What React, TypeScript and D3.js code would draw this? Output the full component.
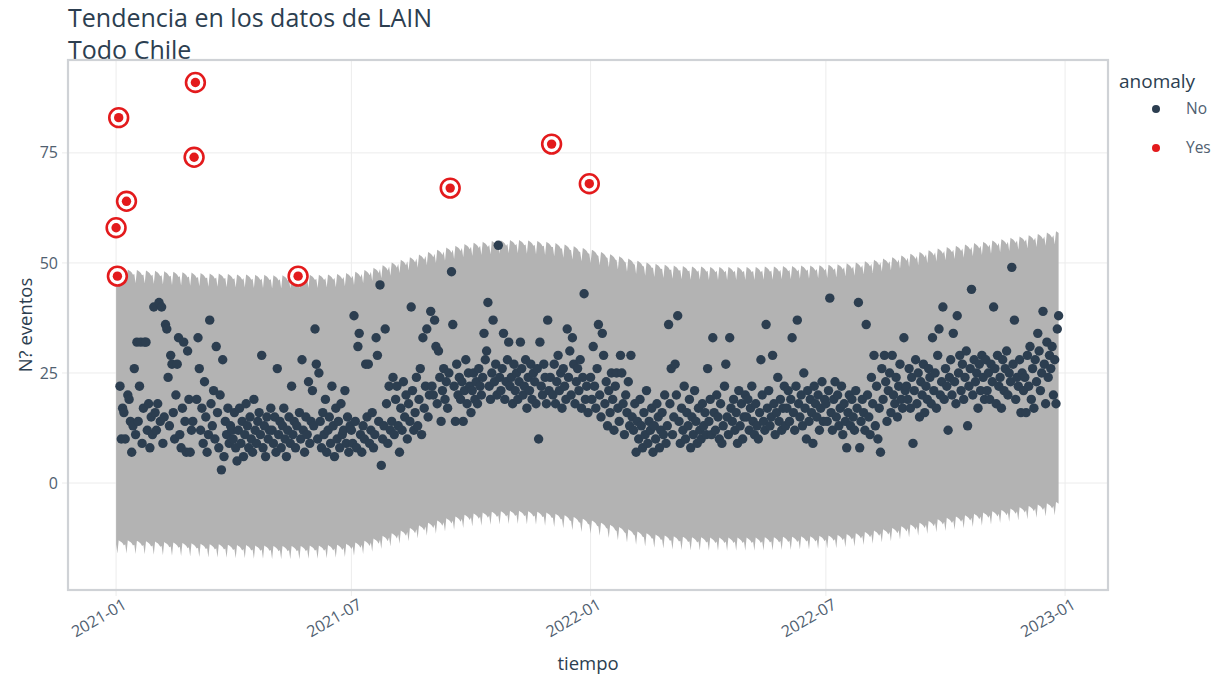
import React from 'react';
import * as d3 from 'd3';

const startDate = '2021-01-01';

// daily counts, one row per month
const counts2021 = [
  58, 47, 83, 22, 10, 17, 16, 10, 64, 20, 19, 14, 7, 13, 26, 11, 32, 14, 22, 32, 9, 17, 32, 32, 12, 18, 8, 15, 11, 40, 16,
  12, 18, 41, 14, 40, 9, 15, 36, 35, 24, 13, 29, 27, 16, 10, 20, 27, 33, 11, 8, 17, 32, 14, 7, 30, 19, 7, 12,
  14, 74, 91, 19, 33, 26, 12, 17, 9, 23, 15, 7, 11, 37, 18, 13, 21, 10, 31, 16, 8, 20, 3, 28, 6, 14, 11, 17, 9, 13, 12,
  10, 16, 8, 5, 12, 17, 9, 14, 6, 11, 18, 13, 8, 15, 10, 7, 19, 12, 9, 14, 16, 11, 29, 8, 13, 6, 15, 10, 12, 17,
  12, 9, 15, 7, 26, 11, 14, 8, 13, 17, 10, 6, 12, 15, 9, 22, 11, 14, 8, 13, 47, 16, 10, 28, 12, 7, 15, 11, 23, 9, 14,
  21, 13, 35, 27, 10, 25, 14, 8, 16, 11, 19, 7, 12, 15, 9, 22, 13, 6, 17, 10, 14, 8, 18, 11, 12, 21, 9, 15, 7, 13,
  12, 9, 38, 14, 8, 31, 34, 11, 7, 13, 10, 27, 15, 27, 9, 12, 16, 8, 11, 33, 29, 14, 45, 4, 10, 13, 35, 18, 9, 22, 12,
  14, 24, 11, 19, 22, 13, 7, 17, 12, 23, 15, 20, 10, 18, 14, 40, 21, 12, 16, 24, 13, 19, 26, 11, 33, 17, 22, 35, 15, 20, 39,
  22, 20, 37, 31, 18, 30, 24, 14, 21, 26, 19, 23, 17, 25, 67, 48, 36, 22, 14, 27, 20, 24, 19, 23, 14, 21, 28, 18, 25, 22,
  16, 21, 25, 19, 23, 18, 26, 22, 20, 24, 34, 28, 30, 41, 22, 19, 25, 37, 23, 27, 20, 54, 24, 21, 26, 34, 19, 23, 28, 32, 22,
  24, 18, 27, 21, 25, 19, 23, 32, 26, 20, 22, 28, 17, 24, 21, 27, 19, 25, 23, 18, 26, 10, 32, 22, 20, 27, 24, 18, 37, 21,
  24, 77, 20, 27, 18, 23, 29, 21, 25, 17, 26, 22, 19, 35, 24, 30, 20, 33, 27, 18, 23, 26, 21, 28, 17, 24, 43, 19, 22, 16, 68,
];
const counts2022 = [
  24, 19, 31, 22, 17, 26, 36, 20, 15, 34, 29, 18, 23, 13, 21, 16, 25, 19, 12, 22, 25, 17, 14, 29, 25, 18, 11, 20, 16, 23, 13,
  29, 15, 12, 18, 7, 14, 10, 19, 13, 8, 16, 11, 21, 9, 14, 12, 17, 7, 13, 10, 18, 15, 8, 12, 16, 11, 20, 9,
  13, 36, 18, 26, 11, 15, 27, 20, 38, 14, 9, 17, 12, 22, 10, 16, 13, 19, 8, 15, 11, 21, 14, 9, 17, 12, 10, 18, 13, 16, 11,
  26, 14, 19, 11, 33, 16, 12, 20, 15, 10, 18, 9, 13, 22, 27, 15, 11, 33, 17, 14, 19, 12, 16, 9, 21, 13, 18, 10, 15, 20,
  15, 19, 12, 17, 22, 14, 11, 18, 13, 10, 16, 28, 20, 14, 12, 36, 17, 21, 13, 15, 29, 18, 11, 16, 24, 14, 19, 12, 17, 22, 13,
  17, 21, 14, 19, 33, 16, 12, 22, 37, 18, 15, 20, 13, 25, 17, 10, 21, 14, 19, 16, 9, 22, 18, 15, 20, 12, 17, 23, 14, 19,
  18, 14, 21, 42, 16, 12, 19, 23, 15, 20, 13, 17, 22, 11, 18, 14, 8, 16, 20, 13, 19, 15, 12, 21, 17, 41, 8, 14, 19, 16, 12,
  36, 20, 15, 11, 24, 18, 29, 13, 22, 10, 17, 7, 26, 19, 29, 23, 14, 21, 25, 16, 29, 20, 18, 24, 15, 22, 27, 19, 17, 33, 21,
  22, 19, 26, 17, 24, 9, 21, 28, 18, 25, 15, 23, 20, 27, 16, 22, 19, 26, 24, 18, 33, 21, 25, 17, 29, 35, 20, 23, 40, 19,
  26, 22, 12, 24, 28, 20, 34, 23, 18, 38, 25, 29, 21, 27, 19, 24, 30, 13, 22, 26, 44, 20, 28, 23, 25, 17, 27, 21, 29, 24, 19,
  28, 21, 25, 19, 27, 23, 40, 26, 18, 29, 22, 24, 17, 28, 21, 26, 30, 20, 25, 23, 49, 27, 37, 19, 24, 22, 28, 16, 25, 21,
  24, 16, 29, 22, 31, 19, 26, 17, 28, 23, 34, 30, 21, 25, 39, 27, 18, 32, 24, 29, 26, 31, 20, 28, 18, 35, 38,
];

const anomalyDates = [
  '2021-01-01', '2021-01-02', '2021-01-03', '2021-01-09', '2021-03-02',
  '2021-03-03', '2021-05-21', '2021-09-15', '2021-12-02', '2021-12-31',
];

// upper edge of the band, one value per week
const bandTopWeekly = [
  48.5, 48.5, 48.4, 48.3, 48.2, 48.1, 48.0, 47.9, 47.8,
  47.7, 47.6, 47.6, 47.5, 47.4, 47.4, 47.3, 47.3, 47.2,
  47.2, 47.2, 47.2, 47.3, 47.3, 47.4, 47.5, 47.7,
  48.0, 48.4, 48.9, 49.5, 50.1, 50.7, 51.3, 51.9, 52.5,
  53.0, 53.5, 53.9, 54.3, 54.6, 54.8, 55.0, 55.1, 55.2,
  55.2, 55.1, 55.0, 54.8, 54.5, 54.2, 53.8, 53.4,
  53.0, 52.5, 52.0, 51.5, 51.0, 50.5, 50.1, 49.8, 49.6,
  49.4, 49.3, 49.2, 49.2, 49.1, 49.1, 49.1, 49.1, 49.1,
  49.1, 49.2, 49.2, 49.3, 49.3, 49.4, 49.4, 49.5,
  49.6, 49.7, 49.9, 50.1, 50.4, 50.7, 51.0, 51.3, 51.7,
  52.1, 52.5, 52.9, 53.3, 53.6, 53.9, 54.2, 54.5, 54.8,
  55.1, 55.4, 55.7, 56.0, 56.3, 56.6, 56.9, 57.2,
];
// weekly seasonal wiggle of the band (day of week offset)
const weeklyShape = [-0.9, -3.0, 0, -0.2, -0.4, -0.7, -1.2];
const bandWidth = 61.5;

const yTicks = [0, 25, 50, 75];
const xTicks = ['2021-01-01', '2021-07-01', '2022-01-01', '2022-07-01', '2023-01-01'];
const legendItems = [
  {label: 'No', color: '#2c3e50'},
  {label: 'Yes', color: '#e31a1c'},
];
const titleLines = ['Tendencia en los datos de LAIN', 'Todo Chile'];

const W = 1225;
const H = 679;
const margin = {left: 68, right: 117, top: 60, bottom: 89};
const font = '"Open Sans", "Noto Sans", sans-serif';
const textColor = '#2c3e50';
const tickColor = '#506070';

export default function App() {
  const parse = d3.utcParse('%Y-%m-%d');
  const fmt = d3.utcFormat('%Y-%m-%d');
  const t0 = parse(startDate) as Date;
  const counts = [...counts2021, ...counts2022];
  const anomalies = new Set(anomalyDates);
  const data = counts.map((v, i) => ({
    i,
    date: d3.utcDay.offset(t0, i),
    value: v,
    anomaly: anomalies.has(fmt(d3.utcDay.offset(t0, i))),
  }));

  const x = d3
    .scaleUtc()
    .domain([parse('2020-11-25') as Date, parse('2023-02-03') as Date])
    .range([margin.left, W - margin.right]);
  const y = d3
    .scaleLinear()
    .domain([-24.3, 96.1])
    .range([H - margin.bottom, margin.top]);

  const top = (i) => bandTopWeekly[Math.floor(i / 7)] + weeklyShape[i % 7];
  const area = d3
    .area()
    .x((d) => x(d.date))
    .y0((d) => y(top(d.i) - bandWidth))
    .y1((d) => y(top(d.i)));

  const normal = data.filter((d) => !d.anomaly);
  const flagged = data.filter((d) => d.anomaly);

  const x0 = margin.left;
  const x1 = W - margin.right;
  const y0 = margin.top;
  const y1 = H - margin.bottom;

  return (
    <svg
      width={W}
      height={H}
      style={{position: 'absolute', left: 0, top: 0, background: '#fff'}}
      fontFamily={font}
    >
      {titleLines.map((t, i) => (
        <text key={t} x={x0} y={27 + i * 32} fontSize={25} fill={textColor}>
          {t}
        </text>
      ))}

      {/* grid */}
      <g stroke="#ececec" strokeWidth={1}>
        {yTicks.map((t) => (
          <line key={t} x1={x0 - 6} x2={x1} y1={y(t)} y2={y(t)} />
        ))}
        {xTicks.map((t) => (
          <line key={t} x1={x(parse(t))} x2={x(parse(t))} y1={y0} y2={y1 + 6} />
        ))}
      </g>

      <path d={area(data)} fill="#b3b3b3" />

      <g fill="#2c3e50">
        {normal.map((d) => (
          <circle key={d.i} cx={x(d.date)} cy={y(d.value)} r={4.7} />
        ))}
      </g>
      <g>
        {flagged.map((d) => (
          <g key={d.i}>
            <circle cx={x(d.date)} cy={y(d.value)} r={9.4} fill="#fff" stroke="#e31a1c" strokeWidth={2.6} />
            <circle cx={x(d.date)} cy={y(d.value)} r={4.7} fill="#e31a1c" />
          </g>
        ))}
      </g>

      <rect x={x0} y={y0} width={x1 - x0} height={y1 - y0} fill="none" stroke="#cfd2d6" strokeWidth={2.2} />

      {/* y axis */}
      <g fontSize={16} fill={tickColor} textAnchor="end">
        {yTicks.map((t) => (
          <text key={t} x={x0 - 10} y={y(t)} dy="0.35em">
            {t}
          </text>
        ))}
      </g>
      <text
        transform={`translate(${32},${(y0 + y1) / 2}) rotate(-90)`}
        textAnchor="middle"
        fontSize={18.5}
        fill={textColor}
      >
        N? eventos
      </text>

      {/* x axis */}
      <g fontSize={16} fill={tickColor} textAnchor="end">
        {xTicks.map((t) => (
          <text key={t} transform={`translate(${x(parse(t)) + 6},${y1 + 8}) rotate(-30)`} dy="0.7em">
            {d3.utcFormat('%Y-%m')(parse(t))}
          </text>
        ))}
      </g>
      <text x={(x0 + x1) / 2} y={670} textAnchor="middle" fontSize={18.5} fill={textColor}>
        tiempo
      </text>

      {/* legend */}
      <text x={1119} y={88} fontSize={19} fill={textColor}>
        anomaly
      </text>
      {legendItems.map((l, i) => (
        <g key={l.label} transform={`translate(0,${109 + i * 39})`}>
          <circle cx={1156} cy={0} r={4} fill={l.color} />
          <text x={1186} y={0} dy="0.35em" fontSize={15.5} fill={tickColor}>
            {l.label}
          </text>
        </g>
      ))}
    </svg>
  );
}
